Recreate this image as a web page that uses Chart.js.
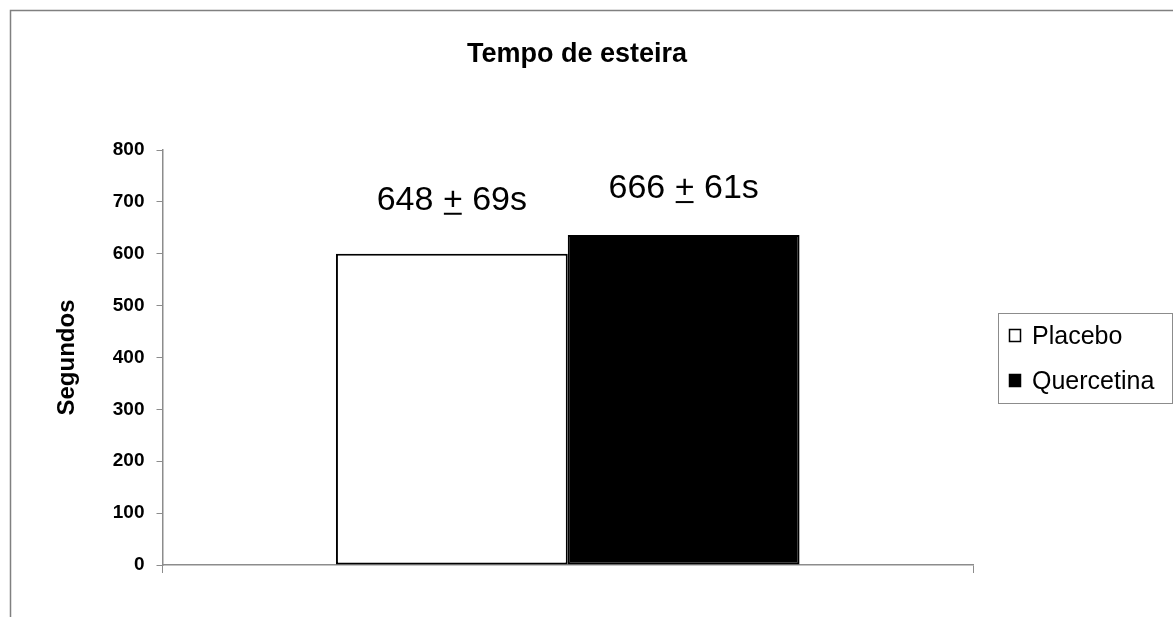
<!DOCTYPE html>
<html>
<head>
<meta charset="utf-8">
<script src="https://cdn.jsdelivr.net/npm/chart.js@4.4.1/dist/chart.umd.min.js"></script>
<style>
  html, body { margin: 0; padding: 0; background: #fff; }
</style>
</head>
<body>
<canvas id="mycanvas" width="1173" height="617"></canvas>
<script>
// data
var categories = [''];
var seriesNames = ['Placebo', 'Quercetina'];
var placebo = [600];
var quercetina = [636];
var means = [648, 666];
var sds = [69, 61];
var yTicks = [0, 100, 200, 300, 400, 500, 600, 700, 800];

var FONT = '"Liberation Sans", Arial, sans-serif';

// frame + title drawn on the canvas
var framePlugin = {
  id: 'frame',
  beforeDraw: function (chart) {
    var ctx = chart.ctx;
    ctx.save();
    ctx.strokeStyle = '#808080';
    ctx.lineWidth = 1.5;
    ctx.beginPath();
    ctx.moveTo(10.5, chart.height);
    ctx.lineTo(10.5, 10.5);
    ctx.lineTo(chart.width, 10.5);
    ctx.stroke();

    ctx.fillStyle = '#000';
    ctx.font = 'bold 27px ' + FONT;
    ctx.textAlign = 'center';
    ctx.textBaseline = 'alphabetic';
    ctx.fillText('Tempo de esteira', 577, 62);
    ctx.restore();
  }
};

// "mean + sd s" labels above each bar, with the plus underlined
var labelLift = [44, 37];
var meanLabels = {
  id: 'meanLabels',
  afterDatasetsDraw: function (chart) {
    var ctx = chart.ctx;
    ctx.save();
    ctx.font = '34px ' + FONT;
    ctx.fillStyle = '#000';
    ctx.textBaseline = 'alphabetic';
    ctx.textAlign = 'left';
    for (var i = 0; i < chart.data.datasets.length; i++) {
      var bar = chart.getDatasetMeta(i).data[0];
      var a = means[i] + ' ', p = '+', b = ' ' + sds[i] + 's';
      var wa = ctx.measureText(a).width;
      var wp = ctx.measureText(p).width;
      var wb = ctx.measureText(b).width;
      var x = bar.x - (wa + wp + wb) / 2;
      var y = bar.y - labelLift[i];
      ctx.fillText(a, x, y);
      ctx.fillText(p, x + wa, y);
      ctx.fillText(b, x + wa + wp, y);
      ctx.fillRect(x + wa + 1, y + 3, wp - 2, 2);
    }
    ctx.restore();
  }
};

// boxed legend at the right
var boxLegend = {
  id: 'boxLegend',
  afterDraw: function (chart) {
    var ctx = chart.ctx;
    ctx.save();
    ctx.strokeStyle = '#8c8c8c';
    ctx.lineWidth = 1;
    ctx.strokeRect(998.5, 313.5, 174, 90);
    ctx.font = '25px ' + FONT;
    ctx.textBaseline = 'middle';
    ctx.textAlign = 'left';
    var ys = [336, 381];
    chart.data.datasets.forEach(function (ds, i) {
      ctx.fillStyle = ds.backgroundColor;
      ctx.fillRect(1009, ys[i] - 7, 12, 13);
      ctx.strokeStyle = '#000';
      ctx.lineWidth = 1.5;
      ctx.strokeRect(1009.5, ys[i] - 6.5, 11, 12);
      ctx.fillStyle = '#000';
      ctx.fillText(ds.label, 1032, ys[i] + 1);
    });
    ctx.restore();
  }
};

var chartdata = {
  labels: categories,
  datasets: [
    {
      label: seriesNames[0],
      backgroundColor: '#ffffff',
      borderColor: '#000000',
      borderWidth: 2,
      borderSkipped: false,
      data: placebo
    },
    {
      label: seriesNames[1],
      backgroundColor: '#000000',
      borderColor: '#000000',
      borderWidth: 2,
      borderSkipped: false,
      data: quercetina
    }
  ]
};

var ctx = document.getElementById('mycanvas');

var barGraph = new Chart(ctx, {
  type: 'bar',
  data: chartdata,
  plugins: [framePlugin, meanLabels, boxLegend],
  options: {
    responsive: false,
    animation: false,
    categoryPercentage: 0.572,
    barPercentage: 1,
    layout: { padding: { top: 150, left: 29, right: 200, bottom: 44 } },
    plugins: {
      legend: { display: false },
      title: { display: false },
      tooltip: { enabled: false }
    },
    scales: {
      x: {
        grid: { drawOnChartArea: false, drawTicks: true, tickLength: 8, color: '#8c8c8c' },
        border: { color: '#8c8c8c', width: 1.5 },
        ticks: { display: false }
      },
      y: {
        min: 0,
        max: 800,
        afterBuildTicks: function (scale) {
          scale.ticks = yTicks.map(function (v) { return { value: v }; });
        },
        grid: { drawOnChartArea: false, drawTicks: true, tickLength: 6, color: '#8c8c8c' },
        border: { color: '#8c8c8c', width: 1.5 },
        ticks: {
          padding: 12,
          color: '#000',
          font: { family: FONT, size: 19, weight: 'bold' }
        },
        title: {
          display: true,
          text: 'Segundos',
          color: '#000',
          font: { family: FONT, size: 24, weight: 'bold' },
          padding: { top: 24, bottom: 19 }
        }
      }
    }
  }
});
</script>
</body>
</html>
